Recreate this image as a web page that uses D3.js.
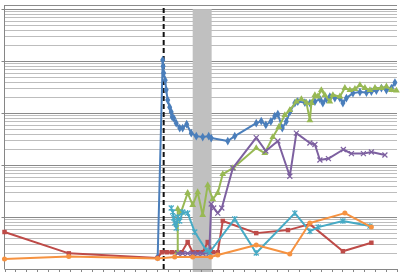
<!DOCTYPE html>
<html><head><meta charset="utf-8">
<script src="https://cdn.jsdelivr.net/npm/d3@7"></script>
<style>body{margin:0;background:#fff}svg{display:block}</style>
</head><body><svg id="c" width="400" height="272"></svg>
<script>
// ---- data (x in period units, y on a log scale) ----
const xTicks = d3.range(0, 37);
const eventT = 14.6;
const bandT = [17.26, 19.0];
const yTop = 1.2e5;

const blueS = [[14.05,1.7],[14.51,10500],[14.55,8000],[14.6,5900],[14.74,4300],[14.83,2800],[14.97,1780],[15.15,1300],[15.29,1050],[15.38,840],[15.52,800],[15.75,640],[16.07,515],[16.34,515],[16.71,610],[17.13,410],[17.59,360],[18.18,345],[18.73,360],[18.96,330],[20.48,290],[21.12,360],[23.09,640],[23.55,700],[23.97,590],[24.43,690],[24.79,875],[25.07,960],[25.48,515],[25.85,690],[26.22,1090],[26.63,1560],[26.9,1660],[27.55,1590],[28.01,1560],[28.47,1660],[28.93,1860],[29.2,1560],[29.52,1860],[29.84,2080],[30.3,1940],[30.76,1940],[31.04,1560],[31.36,1940],[31.96,2420],[32.6,2540],[33.2,2480],[33.65,2590],[34.11,2710],[34.57,3030],[35.03,2770],[35.49,3030],[35.81,3860]];
const redS = [[0,5.15],[5.9,2.0],[14.05,1.63],[14.42,2.1],[14.88,2.1],[15.34,2.1],[15.8,2.1],[16.25,2.1],[16.8,3.3],[17.26,2.1],[17.72,2.1],[18.18,2.1],[18.64,3.3],[19.1,2.1],[19.56,2.1],[20.02,8.4],[23.09,4.9],[26.0,5.6],[28.01,7.3],[31.04,2.2],[33.65,3.2]];
const greenS = [[15.89,2.1],[15.89,14.3],[16.16,11.9],[16.8,29],[17.26,17],[17.72,30],[18.18,10.9],[18.64,41],[19.1,22],[19.56,29],[20.02,67],[20.94,87],[23.09,212],[23.87,170],[24.61,345],[25.16,540],[25.71,915],[26.17,1140],[26.77,1660],[27.23,1860],[27.69,1590],[28.01,730],[28.15,1560],[28.47,2220],[28.74,2080],[29.06,2770],[29.38,2220],[29.84,1660],[30.12,2220],[30.76,2080],[31.22,3030],[31.68,2770],[32.14,2900],[32.6,3450],[33.06,3030],[33.52,2770],[33.98,3030],[34.57,3030],[35.03,3240],[35.49,2770],[35.95,2710]];
const purpleS = [[15.89,2],[16.34,2],[16.8,2],[17.26,2],[17.72,2],[18.18,2],[18.78,2],[18.96,17.8],[19.19,14.9],[19.56,11.9],[19.93,14.9],[20.94,87],[23.09,338],[23.97,186],[25.07,290],[26.17,61],[26.77,412],[28.01,265],[28.47,248],[28.93,125],[29.71,133],[31.08,199],[31.82,166],[32.92,166],[33.65,178],[34.89,156]];
const tealS = [[15.29,14.9],[15.43,12.5],[15.52,9.6],[15.61,7.7],[15.75,6.1],[15.89,10],[16.07,8.4],[16.34,12.5],[16.8,11.9],[17.45,5.15],[18.5,2.3],[18.82,2.1],[21.12,9.2],[23.09,2.03],[26.63,11.9],[28.01,5.3],[28.77,6.4],[31.04,8.4],[33.52,6.7]];
const orangeS = [[0,1.56],[5.9,1.74],[14.05,1.59],[15.61,1.7],[17.26,1.7],[18.91,1.7],[19.56,1.86],[23.09,2.9],[26.17,1.94],[28.01,7.7],[31.22,11.9],[33.65,6.4]];

// ---- layout ----
const svg = d3.select("#c");
const L = 4.5, R = 397, T = 5, B = 269;
const x = d3.scaleLinear().domain([0, 36]).range([L, R]);
const y = d3.scaleLog().domain([1, yTop]).range([B, T]);

// gridlines
const grid = svg.append("g");
for (let d = 0; d <= 5; d++) {
  for (let k = 1; k <= 9; k++) {
    const v = k * Math.pow(10, d);
    if (v <= 1 || v > yTop) continue;
    grid.append("line").attr("x1", L).attr("x2", R)
      .attr("y1", Math.round(y(v)) + 0.5).attr("y2", Math.round(y(v)) + 0.5)
      .attr("stroke", k === 1 ? "#8a8a8a" : "#bdbdbd").attr("stroke-width", 1);
  }
}
grid.append("line").attr("x1", L).attr("x2", R).attr("y1", T + 0.5).attr("y2", T + 0.5)
  .attr("stroke", "#8a8a8a");

// shaded band
svg.append("rect").attr("x", x(bandT[0])).attr("width", x(bandT[1]) - x(bandT[0]))
  .attr("y", y(1e5)).attr("height", 272 - y(1e5)).attr("fill", "#c0c0c0");

// axes
const ax = svg.append("g").attr("stroke", "#868686").attr("stroke-width", 1);
ax.append("line").attr("x1", L).attr("x2", L).attr("y1", T).attr("y2", B);
ax.append("line").attr("x1", L).attr("x2", R).attr("y1", B + 0.5).attr("y2", B + 0.5);
xTicks.forEach(t => ax.append("line").attr("x1", Math.round(x(t)) + 0.5).attr("x2", Math.round(x(t)) + 0.5)
  .attr("y1", B).attr("y2", B + 4));
[10, 100, 1000, 1e4, 1e5].forEach(v => ax.append("line").attr("x1", L - 3).attr("x2", L)
  .attr("y1", Math.round(y(v)) + 0.5).attr("y2", Math.round(y(v)) + 0.5));

// event line
svg.append("line").attr("x1", x(eventT)).attr("x2", x(eventT)).attr("y1", y(1e5) - 1).attr("y2", 272)
  .attr("stroke", "#111").attr("stroke-width", 2).attr("stroke-dasharray", "5,3");

// series
const line = d3.line().x(d => x(d[0])).y(d => y(d[1]));
const series = [
  {data: blueS, color: "#4a7ebb", sym: "diamond"},
  {data: redS, color: "#be4b48", sym: "square"},
  {data: greenS, color: "#98b954", sym: "triangle"},
  {data: purpleS, color: "#7d60a0", sym: "x"},
  {data: tealS, color: "#46aac5", sym: "star"},
  {data: orangeS, color: "#f69240", sym: "circle"}
];
series.forEach(s => {
  const g = svg.append("g");
  g.append("path").attr("d", line(s.data)).attr("fill", "none")
    .attr("stroke", s.color).attr("stroke-width", 2).attr("stroke-linejoin", "round");
  s.data.forEach(d => {
    const cx = x(d[0]), cy = y(d[1]);
    if (s.sym === "x" || s.sym === "star") {
      let p = `M${cx-2.5},${cy-2.5}L${cx+2.5},${cy+2.5}M${cx-2.5},${cy+2.5}L${cx+2.5},${cy-2.5}`;
      if (s.sym === "star") p += `M${cx},${cy-3}L${cx},${cy+3}`;
      g.append("path").attr("d", p).attr("stroke", s.color).attr("stroke-width", 1.2).attr("fill", "none");
    } else {
      const type = {diamond: d3.symbolDiamond, square: d3.symbolSquare, triangle: d3.symbolTriangle, circle: d3.symbolCircle}[s.sym];
      g.append("path").attr("d", d3.symbol().type(type).size(s.sym === "diamond" ? 22 : 20)())
        .attr("transform", `translate(${cx},${cy})`).attr("fill", s.color);
    }
  });
});
</script></body></html>
